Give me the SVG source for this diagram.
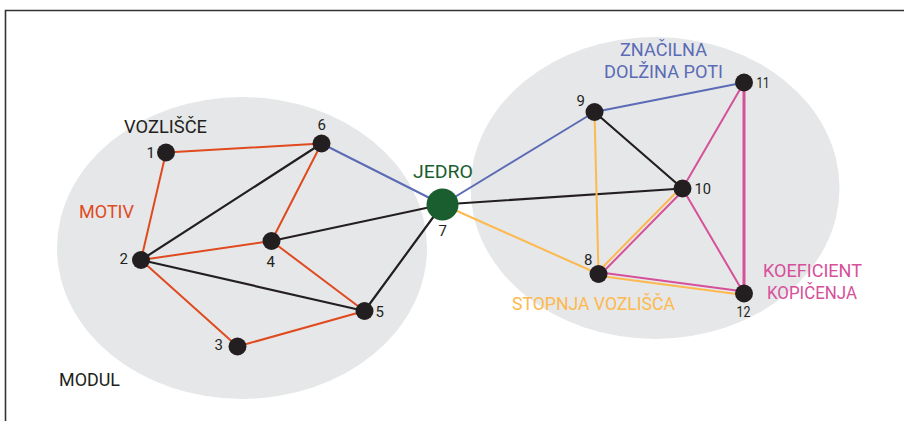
<svg xmlns="http://www.w3.org/2000/svg" width="904" height="421" viewBox="0 0 904 421">
<style>
.bg{fill:#e6e7e8}
.e{fill:none;stroke-width:2;stroke-linecap:round}
.r{stroke:#e04a1f}
.k{stroke:#231f20;stroke-width:2.2}
.b{stroke:#5b6bb5}
.y{stroke:#fdb94e}
.p{stroke:#d6509a}
.n{fill:#231f20}
text{font-family:"Liberation Sans Narrow","Roboto","Liberation Sans",sans-serif}
.lab{font-size:18px}
.num{font-size:15px;fill:#231f20}
</style>
<rect width="904" height="421" fill="#fff"/>
<g id="modules">
<ellipse class="bg" cx="242" cy="248" rx="185" ry="151"/>
<ellipse class="bg" cx="655" cy="188" rx="184.5" ry="151"/>
</g>
<g id="frame" fill="none" stroke="#333" stroke-width="1.6">
<path d="M5.5,421V10.5H904"/>
</g>
<g id="connectors">
<line class="e r" x1="166" y1="152.5" x2="321.5" y2="143.5"/>
<line class="e r" x1="166" y1="152.5" x2="141" y2="260"/>
<line class="e r" x1="141" y1="260" x2="271.5" y2="241"/>
<line class="e r" x1="321.5" y1="143.5" x2="271.5" y2="241"/>
<line class="e r" x1="141" y1="260" x2="237.5" y2="346.5"/>
<line class="e r" x1="237.5" y1="346.5" x2="364.5" y2="311"/>
<line class="e r" x1="271.5" y1="241" x2="364.5" y2="311"/>
<line class="e k" x1="141" y1="260" x2="321.5" y2="143.5"/>
<line class="e k" x1="141" y1="260" x2="364.5" y2="311"/>
<line class="e k" x1="271.5" y1="241" x2="442.5" y2="204.5"/>
<line class="e k" x1="364.5" y1="311" x2="442.5" y2="204.5"/>
<line class="e k" x1="594.5" y1="112" x2="682.5" y2="188.5"/>
<line class="e k" x1="442.5" y1="204.5" x2="682.5" y2="188.5"/>
<line class="e b" x1="321.5" y1="143.5" x2="442.5" y2="204.5"/>
<line class="e b" x1="442.5" y1="204.5" x2="594.5" y2="112"/>
<line class="e b" x1="594.5" y1="112" x2="744" y2="82.5"/>
<line class="e y" x1="442.5" y1="204.5" x2="598.5" y2="274"/>
<line class="e y" x1="594.5" y1="112" x2="598.5" y2="274"/>
<line class="e y" x1="597.2" y1="272.7" x2="681.2" y2="187.2"/>
<line class="e p" x1="599.8" y1="275.3" x2="683.8" y2="189.8"/>
<line class="e p" x1="598.7" y1="272.2" x2="744.2" y2="291.5"/>
<line class="e y" x1="598.3" y1="275.8" x2="743.8" y2="295.1"/>
<line class="e p" x1="682.5" y1="188.5" x2="744" y2="82.5"/>
<line class="e p" x1="682.5" y1="188.5" x2="744" y2="293.5"/>
<line class="e p" x1="744" y1="82.5" x2="744" y2="293.5" style="stroke-width:3"/>
</g>
<g id="node1"><circle class="n" cx="166" cy="152.5" r="9"/><text class="num" x="146.5" y="157.5">1</text></g>
<g id="node2"><circle class="n" cx="141" cy="260" r="9"/><text class="num" x="119.5" y="264">2</text></g>
<g id="node3"><circle class="n" cx="237.5" cy="346.5" r="9"/><text class="num" x="214.5" y="350">3</text></g>
<g id="node4"><circle class="n" cx="271.5" cy="241" r="9"/><text class="num" x="266.5" y="266.5">4</text></g>
<g id="node5"><circle class="n" cx="364.5" cy="311" r="9"/><text class="num" x="375.5" y="316.5">5</text></g>
<g id="node6"><circle class="n" cx="321.5" cy="143.5" r="9"/><text class="num" x="317.5" y="129.5">6</text></g>
<g id="node7"><circle cx="442.5" cy="204.5" r="16" fill="#1a5e30"/><text class="num" x="438.5" y="235.5">7</text><text class="lab" x="413" y="178" fill="#1a5e30" textLength="60" lengthAdjust="spacingAndGlyphs">JEDRO</text></g>
<g id="node8"><circle class="n" cx="598.5" cy="274" r="9"/><text class="num" x="584" y="264.5">8</text></g>
<g id="node9"><circle class="n" cx="594.5" cy="112" r="9"/><text class="num" x="576.5" y="105.5">9</text></g>
<g id="node10"><circle class="n" cx="682.5" cy="188.5" r="9"/><text class="num" x="694.5" y="193.5" textLength="16.5" lengthAdjust="spacingAndGlyphs">10</text></g>
<g id="node11"><circle class="n" cx="744" cy="82.5" r="9"/><text class="num" x="756.5" y="87.5" textLength="13" lengthAdjust="spacingAndGlyphs">11</text></g>
<g id="node12"><circle class="n" cx="744" cy="293.5" r="9"/><text class="num" x="736.5" y="316.5" textLength="14" lengthAdjust="spacingAndGlyphs">12</text></g>
<g id="labels">
<text class="lab" x="124" y="133" fill="#231f20" textLength="83" lengthAdjust="spacingAndGlyphs">VOZLIŠČE</text>
<text class="lab" x="79" y="218" fill="#e04a1f" textLength="55" lengthAdjust="spacingAndGlyphs">MOTIV</text>
<text class="lab" x="59" y="386" fill="#231f20" textLength="61" lengthAdjust="spacingAndGlyphs">MODUL</text>
<text class="lab" x="620" y="56" fill="#5b6bb5" textLength="87" lengthAdjust="spacingAndGlyphs">ZNAČILNA</text>
<text class="lab" x="604" y="78" fill="#5b6bb5" textLength="119" lengthAdjust="spacingAndGlyphs">DOLŽINA POTI</text>
<text class="lab" x="512" y="310" fill="#fdb94e" textLength="163" lengthAdjust="spacingAndGlyphs">STOPNJA VOZLIŠČA</text>
<text class="lab" x="763" y="277" fill="#d6509a" textLength="99" lengthAdjust="spacingAndGlyphs">KOEFICIENT</text>
<text class="lab" x="767" y="299" fill="#d6509a" textLength="90" lengthAdjust="spacingAndGlyphs">KOPIČENJA</text>
</g>
</svg>
